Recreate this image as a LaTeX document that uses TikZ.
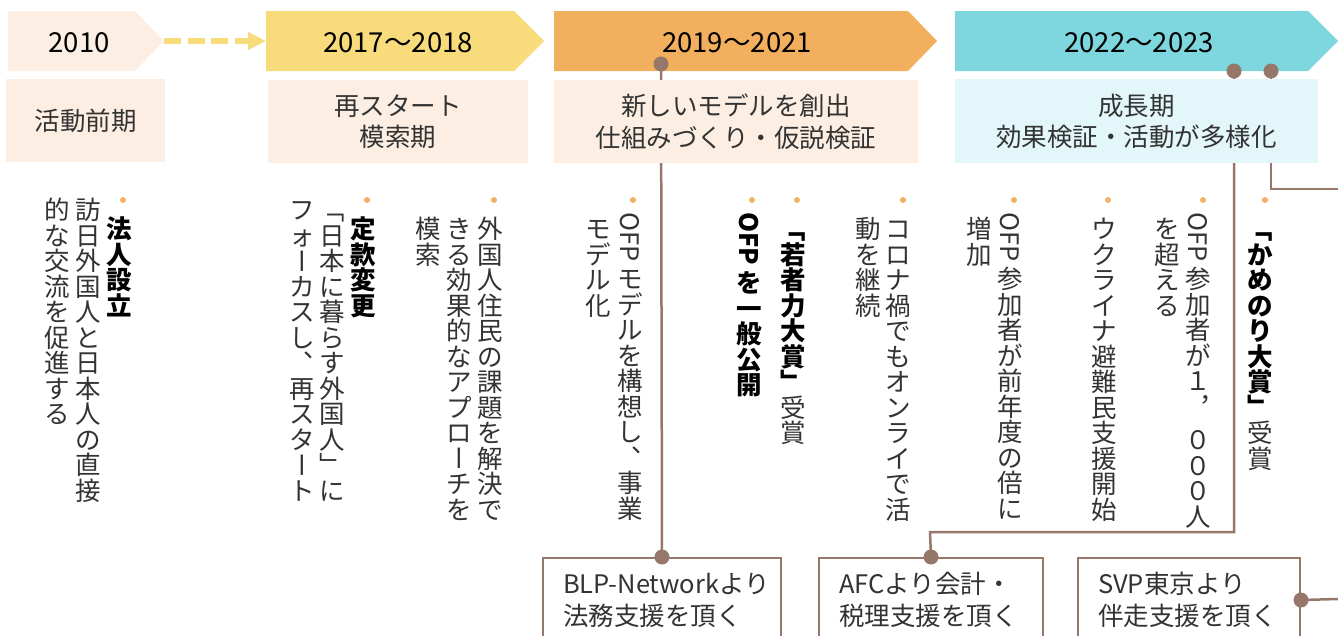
\documentclass[tikz,border=0pt]{standalone}
\usepackage{fontspec}
\setmainfont{Noto Sans CJK JP}
\usepackage{graphicx}
\usetikzlibrary{arrows.meta}
\definecolor{peach}{HTML}{FCEEE2}
\definecolor{yel}{HTML}{F8DC7B}
\definecolor{org}{HTML}{F2B05E}
\definecolor{cyn}{HTML}{7ED6DF}
\definecolor{lcyn}{HTML}{E3F6FA}
\definecolor{brn}{HTML}{957869}
\definecolor{dotc}{HTML}{F4B163}
\definecolor{txt}{HTML}{333333}
\newcommand\vcellstrut{\rule[-0.12em]{0pt}{1em}}
\newcommand\vcell[1]{\hbox to 1em{\hss#1\vcellstrut\hss}}
\newcommand\vL[1]{\def\vcellstrut{}\rotatebox{-90}{#1\kern0.2em}}
\newcommand\vR[1]{\rotatebox[origin=c]{-90}{\rule[-0.12em]{0pt}{1em}#1}}
\newcommand\vP[1]{\kern0.55em\raisebox{0.6em}{\rlap{#1}}\kern0.45em}
\newcommand\vPc[1]{\def\vcellstrut{\rule[-0.42em]{0pt}{1.3em}}\vP{#1}}
\ExplSyntaxOn
\NewDocumentCommand\vcol{m}{\tl_map_inline:nn{#1}{\vcell{##1}}}
\ExplSyntaxOff
\newcommand\vstack[1]{\vbox{\offinterlineskip#1}}
\begin{document}
\begin{tikzpicture}[x=1pt,y=-1pt,
  hdr/.style={anchor=base, inner sep=0pt, font=\fontsize{27.5}{30}\selectfont, text=black},
  pbox/.style={anchor=north west, inner sep=0pt, align=center, font=\fontsize{25.5}{31.5}\selectfont, text=txt},
  vt/.style={anchor=north, inner sep=0pt, font=\fontsize{25.5}{25.5}\selectfont, text=txt},
  vtb/.style={anchor=north, inner sep=0pt, font=\fontsize{25.5}{25.5}\selectfont\bfseries, text=black},
  sbox/.style={anchor=north west, draw=brn, line width=2pt, fill=white, inner xsep=20pt, inner ysep=0pt, minimum height=84pt, align=left, font=\fontsize{25.5}{32}\selectfont, text=txt},
  conn/.style={draw=brn, line width=2.5pt},
  bul/.style={fill=dotc}]
\useasboundingbox (0,0) rectangle (1338,635);
\clip (0,0) rectangle (1338,635);
% period arrows
\fill[peach] (8,11) -- (135,11) -- (164,41) -- (135,71) -- (8,71) -- cycle;
\fill[yel] (266,11) -- (514,11) -- (544,41) -- (514,71) -- (266,71) -- cycle;
\fill[org] (554,11) -- (908,11) -- (937,41) -- (908,71) -- (554,71) -- cycle;
\fill[cyn] (955,11) -- (1308,11) -- (1338,41) -- (1308,71) -- (955,71) -- cycle;
\node[hdr] (h1) at (79,52) {2010};
\node[hdr] (h2) at (398,52) {2017〜2018};
\node[hdr] (h3) at (737,52) {2019〜2021};
\node[hdr] (h4) at (1139,52) {2022〜2023};
\coordinate (a1tip) at (164,41);
\coordinate (a2w) at (266,41);
\draw[yel, line width=6.5pt, dash pattern=on 17pt off 6.5pt, -{Triangle[length=18pt,width=17pt]}] (a1tip) -- (a2w);
% bottom boxes
\node[sbox, minimum width=238pt, text width=198pt] (blp) at (542,557) {\mbox{BLP-Networkより}\\\mbox{法務支援を頂く}};
\node[sbox, minimum width=224pt, text width=184pt] (afc) at (818,557) {\mbox{AFCより会計・}\\\mbox{税理支援を頂く}};
\node[sbox, minimum width=222pt, text width=182pt] (svp) at (1077,557) {\mbox{SVP東京より}\\\mbox{伴走支援を頂く}};
% connectors
\coordinate (d1) at (661,64);
\coordinate (d2) at (1234,71);
\coordinate (d3) at (1271,71);
\coordinate (k2) at (930,532);
\coordinate (e3) at (1338,189);
\coordinate (e4) at (1338,599);
\draw[conn] (d1) -- (blp.north);
\draw[conn] (d2) |- (k2) -- (afc.north);
\draw[conn] (d3) |- (e3);
\draw[conn] (svp.east) -- (e4);
% period boxes
\node[pbox, fill=peach, minimum width=159pt, minimum height=83pt] (p1) at (6,79) {活動前期};
\node[pbox, fill=peach, minimum width=260pt, minimum height=83pt] (p2) at (268,80) {再スタート\\模索期};
\node[pbox, fill=peach, minimum width=364pt, minimum height=83pt] (p3) at (554,80) {新しいモデルを創出\\仕組みづくり・仮説検証};
\node[pbox, fill=lcyn, minimum width=363pt, minimum height=84pt] (p4) at (955,79) {成長期\\効果検証・活動が多様化};
% vertical texts
\node[vtb] (i1a) at (119,216) {\vstack{\vcol{法人設立}}};
\node[vt] (i1b) at (88,197) {\vstack{\vcol{訪日外国人と日本人の直接}}};
\node[vt] (i1c) at (57,197) {\vstack{\vcol{的な交流を促進する}}};
\node[vtb] (i2a) at (363,216) {\vstack{\vcol{定款変更}}};
\node[vt] (i2b) at (332,197) {\vstack{\vcol{{\vR{「}}日本に暮らす外国人{\vR{」}}に}}};
\node[vt] (i2c) at (302,197) {\vstack{\vcol{フォ{\vR{ー}}カスし{\vP{、}}再スタ{\vR{ー}}ト}}};
\node[vt] (i3a) at (490,216) {\vstack{\vcol{外国人住民の課題を解決で}}};
\node[vt] (i3b) at (459,216) {\vstack{\vcol{きる効果的なアプロ{\vR{ー}}チを}}};
\node[vt] (i3c) at (428,216) {\vstack{\vcol{模索}}};
\node[vt] (i4a) at (630,212) {\vstack{\vcol{{\vL{OFP}}モデルを構想し{\vP{、}}事業}}};
\node[vt] (i4b) at (598,216) {\vstack{\vcol{モデル化}}};
\node[vtb] (i5a) at (749,212) {\vstack{\vcol{{\vL{OFP}}を一般公開}}};
\node[vt] (i6a) at (793,216) {\vstack{\bfseries\color{black}\vcol{{\vR{「}}若者力大賞{\vR{」}}}\mdseries\color{txt}\vcol{受賞}}};
\node[vt] (i7a) at (898,216) {\vstack{\vcol{コロナ禍でもオンライで活}}};
\node[vt] (i7b) at (868,216) {\vstack{\vcol{動を継続}}};
\node[vt] (i8a) at (1010,212) {\vstack{\vcol{{\vL{OFP}}参加者が前年度の倍に}}};
\node[vt] (i8b) at (979,216) {\vstack{\vcol{増加}}};
\node[vt] (i9a) at (1104,216) {\vstack{\vcol{ウクライナ避難民支援開始}}};
\node[vt] (i10a) at (1198,212) {\vstack{\vcol{{\vL{OFP}}参加者が１{\vPc{，}}０００人}}};
\node[vt] (i10b) at (1167,216) {\vstack{\vcol{を超える}}};
\node[vt] (i11a) at (1260,216) {\vstack{\bfseries\color{black}\vcol{{\vR{「}}かめのり大賞{\vR{」}}}\mdseries\color{txt}\vcol{受賞}}};
% bullets
\foreach \bx in {123,367,494,633,752,797,903,1014,1108,1203,1265}
  \fill[bul] (\bx,200) circle (3pt);
% connector dots
\fill[brn] (d1) circle (7.5pt);
\fill[brn] (blp.north) circle (7.5pt);
\fill[brn] (d2) circle (7.5pt);
\fill[brn] (d3) circle (7.5pt);
\fill[brn] (afc.north) circle (7.5pt);
\fill[brn] (svp.east) circle (7.5pt);
\end{tikzpicture}
\end{document}
